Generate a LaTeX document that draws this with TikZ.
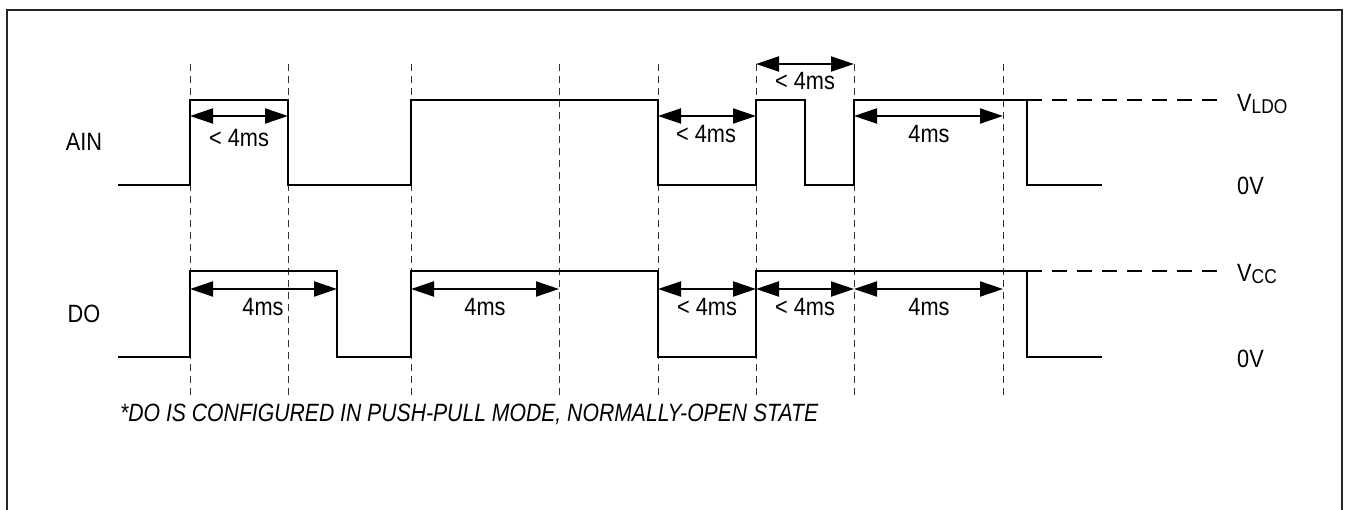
\documentclass[tikz,border=0pt]{standalone}
\usepackage{fontspec}
\setmainfont{Liberation Sans}
\newfontfamily\cond[FakeStretch=0.87]{Liberation Sans}
\usepackage{graphicx}
\usetikzlibrary{arrows.meta}
\begin{document}
\begin{tikzpicture}[x=1pt,y=-1pt,
  sig/.style={line width=2pt, black, line join=miter},
  guide/.style={line width=1pt, black!80, dash pattern=on 7pt off 5pt},
  level/.style={line width=1.6pt, black, dash pattern=on 15pt off 10pt},
  dim/.style={line width=2pt, black, {Triangle[length=23pt,width=15pt]}-{Triangle[length=23pt,width=15pt]}},
  txt/.style={inner sep=0pt, font=\cond\fontsize{25}{28}\selectfont},
  lab/.style={txt, anchor=base},
  frame/.style={line width=2pt, black!85}
]
\useasboundingbox (0,0) rectangle (1349,510);
% frame (open at bottom)
\draw[frame] (7,510) -- (7,10) -- (1342,10) -- (1342,510);

% guide lines
\foreach \x/\n in {190/a,288/b,411/c,559/d,658/e,756/f,854/g,1003/h}{
  \coordinate (g\n top) at (\x,64);
  \coordinate (g\n bot) at (\x,395);
  \draw[guide] (g\n top) -- (g\n bot);
}

% AIN signal
\draw[sig] (118,185) -- (190,185) -- (190,100) -- (288,100) -- (288,185)
  -- (411,185) -- (411,100) -- (658,100) -- (658,185) -- (756,185)
  -- (756,100) -- (805,100) -- (805,185) -- (854,185) -- (854,100)
  -- (1027,100) -- (1027,185) -- (1102,185);
\coordinate (ainend) at (1027,100);
\coordinate (vldo) at (1222,100);
\draw[level] (ainend) -- (vldo);

% DO signal
\draw[sig] (118,357) -- (190,357) -- (190,271) -- (337,271) -- (337,357)
  -- (411,357) -- (411,271) -- (658,271) -- (658,357) -- (756,357)
  -- (756,271) -- (1027,271) -- (1027,357) -- (1102,357);
\coordinate (doend) at (1027,271);
\coordinate (vcc) at (1222,271);
\draw[level] (doend) -- (vcc);

% AIN dimension arrows
\coordinate (a1l) at (190,116); \coordinate (a1r) at (288,116);
\coordinate (a2l) at (658,116); \coordinate (a2r) at (756,116);
\coordinate (a3l) at (756,64);  \coordinate (a3r) at (854,64);
\coordinate (a4l) at (854,116); \coordinate (a4r) at (1003,116);
\draw[dim] (a1l) -- (a1r);
\draw[dim] (a2l) -- (a2r);
\draw[dim] (a3l) -- (a3r);
\draw[dim] (a4l) -- (a4r);
\node[lab] (t1) at (239,147) {< 4ms};
\node[lab] (t2) at (706,143) {< 4ms};
\node[lab] (t3) at (805,90) {< 4ms};
\node[lab] (t4) at (929,143) {4ms};

% DO dimension arrows
\coordinate (d1l) at (190,289); \coordinate (d1r) at (337,289);
\coordinate (d2l) at (411,289); \coordinate (d2r) at (559,289);
\coordinate (d3l) at (658,289); \coordinate (d3r) at (756,289);
\coordinate (d4l) at (756,289); \coordinate (d4r) at (854,289);
\coordinate (d5l) at (854,289); \coordinate (d5r) at (1003,289);
\draw[dim] (d1l) -- (d1r);
\draw[dim] (d2l) -- (d2r);
\draw[dim] (d3l) -- (d3r);
\draw[dim] (d4l) -- (d4r);
\draw[dim] (d5l) -- (d5r);
\node[lab] (u1) at (263,316) {4ms};
\node[lab] (u2) at (485,316) {4ms};
\node[lab] (u3) at (707,316) {< 4ms};
\node[lab] (u4) at (805,316) {< 4ms};
\node[lab] (u5) at (929,316) {4ms};

% signal names
\node[txt, anchor=base] (ain) at (84,151) {AIN};
\node[txt, anchor=base] (do) at (84,323) {DO};

% level labels
\node[txt, anchor=base west] (lv1) at (1237,112) {V{\fontsize{20}{22}\selectfont\raisebox{-2pt}{LDO}}};
\node[txt, anchor=base west] (lv2) at (1237,195) {0V};
\node[txt, anchor=base west] (lv3) at (1237,282) {V{\fontsize{20}{22}\selectfont\raisebox{-2pt}{CC}}};
\node[txt, anchor=base west] (lv4) at (1237,367) {0V};

% footnote
\node[txt, anchor=base west] (note) at (120,421)
  {\resizebox{698pt}{\height}{\itshape *DO IS CONFIGURED IN PUSH-PULL MODE, NORMALLY-OPEN STATE}};
\end{tikzpicture}
\end{document}
